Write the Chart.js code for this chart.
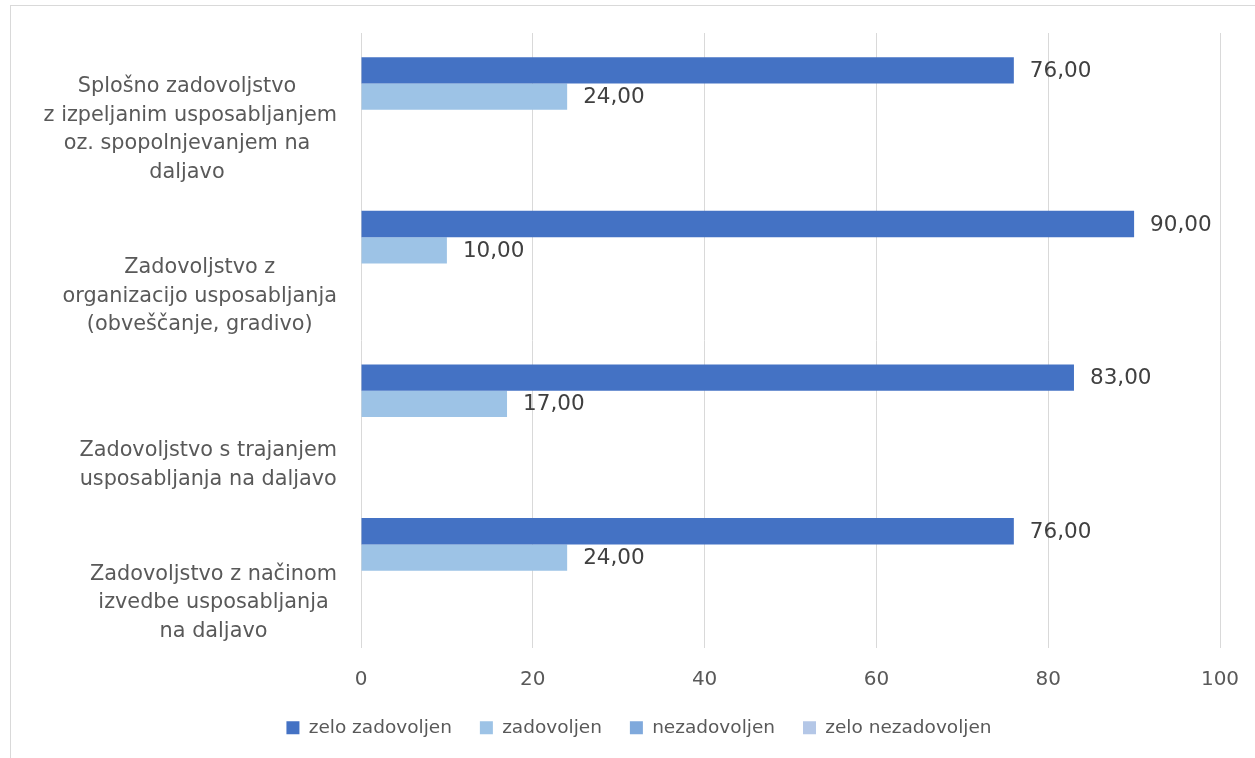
<!DOCTYPE html>
<html>
<head>
<meta charset="utf-8">
<script src="https://cdn.jsdelivr.net/npm/chart.js@4"></script>
<style>
  html, body { margin: 0; padding: 0; background: #fff; overflow: hidden; }
  #frame {
    position: absolute; left: 10px; top: 5px; width: 1260px; height: 770px;
    border-left: 1px solid #d9d9d9; border-top: 1px solid #d9d9d9;
  }
  #wrap { position: absolute; left: 0; top: 0; width: 1244px; height: 752px; }
</style>
</head>
<body>
<div id="frame"><div id="wrap"><canvas id="cardGraph"></canvas></div></div>
<script>
var categories = [
    ['Splošno zadovoljstvo', ' z izpeljanim usposabljanjem', 'oz. spopolnjevanjem na', 'daljavo'],
    ['Zadovoljstvo z', 'organizacijo usposabljanja', '(obveščanje, gradivo)'],
    ['Zadovoljstvo s trajanjem', 'usposabljanja na daljavo'],
    ['Zadovoljstvo z načinom', 'izvedbe usposabljanja', 'na daljavo']
];
var zeloZadovoljen = [76, 90, 83, 76];
var zadovoljen = [24, 10, 17, 24];
var nezadovoljen = [null, null, null, null];
var zeloNezadovoljen = [null, null, null, null];
var xTicks = [0, 20, 40, 60, 80, 100];

// value labels after the bars (no datalabels plugin available)
var valueLabels = {
    id: 'valueLabels',
    afterDatasetsDraw: function (chart) {
        var ctx = chart.ctx;
        ctx.save();
        ctx.font = '21.5px "DejaVu Sans"';
        ctx.fillStyle = '#404040';
        ctx.textBaseline = 'middle';
        ctx.textAlign = 'left';
        chart.data.datasets.forEach(function (ds, i) {
            chart.getDatasetMeta(i).data.forEach(function (bar, j) {
                var v = ds.data[j];
                if (v === null) return;
                ctx.fillText(v.toFixed(2).replace('.', ','), bar.x + 16, bar.y + 1);
            });
        });
        ctx.restore();
    }
};

// category labels: each block right-aligned to the axis, lines centred inside the block
var categoryLabels = {
    id: 'categoryLabels',
    afterDraw: function (chart) {
        var scale = chart.scales.y;
        var ctx = chart.ctx;
        var shift = [20, 33, 48, 32];
        var lineH = 28.5;
        var rightEdge = scale.right - 24;
        ctx.save();
        ctx.font = '20.8px "DejaVu Sans"';
        ctx.fillStyle = '#595959';
        ctx.textBaseline = 'middle';
        ctx.textAlign = 'center';
        chart.data.labels.forEach(function (lines, i) {
            var w = Math.max.apply(null, lines.map(function (t) { return ctx.measureText(t).width; }));
            var cx = rightEdge - w / 2;
            var cy = scale.getPixelForTick(i) + shift[i];
            lines.forEach(function (t, k) {
                ctx.fillText(t, cx, cy + (k - (lines.length - 1) / 2) * lineH);
            });
        });
        ctx.restore();
    }
};

var ctx = document.getElementById('cardGraph').getContext('2d');
var myChart = new Chart(ctx, {
    type: 'bar',
    plugins: [valueLabels, categoryLabels],
    data: {
        labels: categories,
        datasets: [{
            label: 'zelo zadovoljen',
            data: zeloZadovoljen,
            backgroundColor: '#4472c4'
        }, {
            label: 'zadovoljen',
            data: zadovoljen,
            backgroundColor: '#9dc3e6'
        }, {
            label: 'nezadovoljen',
            data: nezadovoljen,
            backgroundColor: '#7fa9dc'
        }, {
            label: 'zelo nezadovoljen',
            data: zeloNezadovoljen,
            backgroundColor: '#b4c7e7'
        }]
    },
    options: {
        indexAxis: 'y',
        responsive: true,
        maintainAspectRatio: false,
        animation: false,
        categoryPercentage: 0.685,
        barPercentage: 1,
        layout: { padding: { left: 47, top: 27, right: 35, bottom: 11 } },
        plugins: {
            tooltip: { enabled: false },
            legend: {
                position: 'bottom',
                labels: {
                    boxWidth: 13,
                    boxHeight: 13,
                    padding: 28,
                    color: '#595959',
                    font: { family: '"DejaVu Sans"', size: 18.5 }
                }
            }
        },
        scales: {
            x: {
                min: 0,
                max: 100,
                afterBuildTicks: function (scale) {
                    scale.ticks = xTicks.map(function (v) { return { value: v }; });
                },
                afterFit: function (scale) {
                    scale.height -= 21;
                    scale.paddingLeft = 0;
                    scale.paddingRight = 0;
                },
                grid: { color: '#d9d9d9', drawTicks: false },
                border: { display: false },
                ticks: {
                    padding: 20,
                    color: '#595959',
                    font: { family: '"DejaVu Sans"', size: 20 }
                }
            },
            y: {
                afterFit: function (scale) {
                    scale.width = 303;
                    scale.paddingTop = 0;
                    scale.paddingBottom = 0;
                },
                grid: { display: false },
                border: { display: false },
                ticks: { display: false }
            }
        }
    }
});
</script>
</body>
</html>
